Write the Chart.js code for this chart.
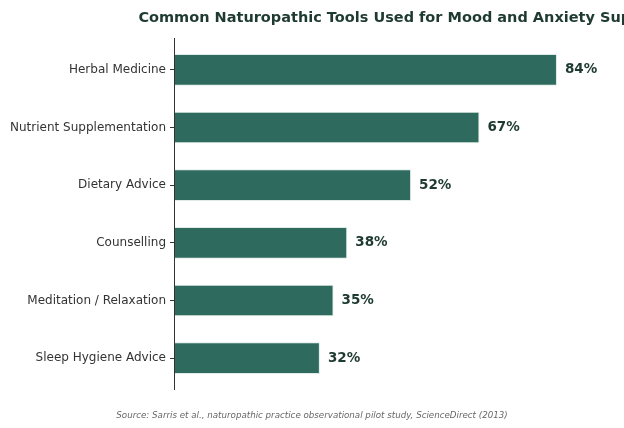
<!DOCTYPE html>
<html>
<head>
<meta charset="utf-8">
<script src="https://cdn.jsdelivr.net/npm/chart.js@4"></script>
<style>
  html, body { margin: 0; padding: 0; background: #fff; overflow: hidden; }
  #wrap { width: 624px; height: 428px; }
</style>
</head>
<body>
<div id="wrap"><canvas id="toolsChart"></canvas></div>
<script>
const categories = [
    'Herbal Medicine',
    'Nutrient Supplementation',
    'Dietary Advice',
    'Counselling',
    'Meditation / Relaxation',
    'Sleep Hygiene Advice'
];
const percentUsed = [84, 67, 52, 38, 35, 32];

const titleText = 'Common Naturopathic Tools Used for Mood and Anxiety Support';
const sourceText = 'Source: Sarris et al., naturopathic practice observational pilot study, ScienceDirect (2013)';

const BAR_COLOR = '#2e6b5e';
const DARK_GREEN = '#1e3a31';
const FONT = '"DejaVu Sans", sans-serif';

// title, source note, left spine and value labels
const decorations = {
    id: 'decorations',
    afterDatasetsDraw(chart) {
        const ctx = chart.ctx;
        const area = chart.chartArea;
        ctx.save();

        // spine, a bit longer than the plot area like matplotlib margins
        ctx.strokeStyle = '#333';
        ctx.lineWidth = 1;
        ctx.beginPath();
        ctx.moveTo(area.left + 0.5, area.top - 3);
        ctx.lineTo(area.left + 0.5, area.bottom + 3);
        ctx.stroke();

        // value labels at bar ends
        ctx.fillStyle = DARK_GREEN;
        ctx.font = 'bold 13.5px ' + FONT;
        ctx.textAlign = 'left';
        ctx.textBaseline = 'middle';
        chart.getDatasetMeta(0).data.forEach((bar, i) => {
            ctx.fillText(percentUsed[i] + '%', bar.x + 8, bar.y);
        });

        // title centred on the axes (it runs off the right edge)
        const xScale = chart.scales.x;
        const centre = (xScale.getPixelForValue(0) + xScale.getPixelForValue(100)) / 2;
        ctx.font = 'bold 14.5px ' + FONT;
        ctx.textAlign = 'center';
        ctx.fillText(titleText, centre, 18);

        // source note
        ctx.fillStyle = '#666';
        ctx.font = 'italic 8.7px ' + FONT;
        ctx.fillText(sourceText, chart.width / 2, 416);
        ctx.restore();
    }
};

new Chart(document.getElementById('toolsChart'), {
    type: 'bar',
    data: {
        labels: categories,
        datasets: [{
            data: percentUsed,
            backgroundColor: BAR_COLOR,
            borderColor: '#dfeae6',
            borderWidth: 1,
            borderSkipped: false,
            barPercentage: 0.55,
            categoryPercentage: 1
        }]
    },
    options: {
        indexAxis: 'y',
        responsive: true,
        maintainAspectRatio: false,
        animation: false,
        layout: { padding: { top: 41, bottom: 41, left: 0, right: 0 } },
        plugins: {
            legend: { display: false },
            tooltip: { enabled: false }
        },
        scales: {
            x: {
                display: false,
                min: 0,
                max: 98.7
            },
            y: {
                afterFit(scale) { scale.width = 174; },
                border: { display: false },
                grid: {
                    offset: false,
                    drawOnChartArea: false,
                    drawTicks: true,
                    tickLength: 4,
                    color: '#333'
                },
                ticks: {
                    color: '#333',
                    padding: 4,
                    font: { family: FONT, size: 12 }
                }
            }
        }
    },
    plugins: [decorations]
});
</script>
</body>
</html>
